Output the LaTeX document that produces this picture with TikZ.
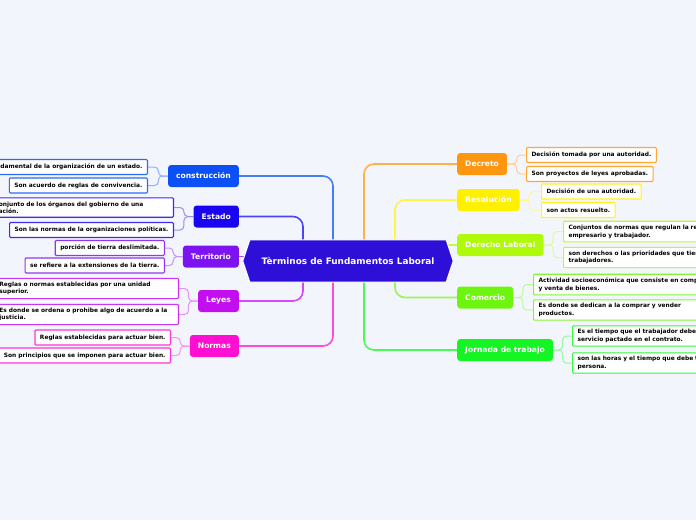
\documentclass[tikz,border=0pt]{standalone}
\usepackage{fontspec}
\setmainfont{DejaVu Sans}
\usetikzlibrary{backgrounds}
\definecolor{pagebg}{RGB}{243,245,252}
\definecolor{hubblue}{RGB}{45,15,215}
\definecolor{conscol}{RGB}{10,80,245}
\definecolor{estcol}{RGB}{25,5,240}
\definecolor{tercol}{RGB}{125,20,240}
\definecolor{leycol}{RGB}{195,15,240}
\definecolor{norcol}{RGB}{255,15,210}
\definecolor{deccol}{RGB}{255,150,15}
\definecolor{rescol}{RGB}{255,240,0}
\definecolor{dercol}{RGB}{175,250,10}
\definecolor{comcol}{RGB}{110,245,15}
\definecolor{jorcol}{RGB}{20,245,35}

\begin{document}
\begin{tikzpicture}[
    x=1pt, y=-1pt,
    hub/.style={minimum width=196pt, minimum height=42pt, inner sep=0pt, text=white, font=\bfseries\fontsize{8.9}{10}\selectfont},
    branch/.style={rounded corners=3pt, fill=#1, text=white, minimum height=22pt, inner xsep=8pt, inner ysep=0pt, font=\bfseries\fontsize{7.6}{9}\selectfont},
    leaf/.style={draw=#1!85, fill=white, line width=1.1pt, rounded corners=1pt, text=black, minimum height=15pt, inner xsep=5pt, inner ysep=3.5pt, align=left, font=\bfseries\fontsize{5.9}{7.6}\selectfont},
    wide/.style={text width=174pt},
    trunk/.style={draw=#1!75, line width=1.6pt, rounded corners=10pt},
    twig/.style={draw=#1!45, line width=1pt, rounded corners=4pt}
]
\useasboundingbox (0,0) rectangle (696,520);
\clip (0,0) rectangle (696,520);

\node[hub] (hub) at (348,261) {Tèrminos de Fundamentos Laboral};

\node[branch=conscol, anchor=east] (cons) at (239,176) {construcción};
\node[branch=estcol, anchor=east] (estado) at (239,216.5) {Estado};
\node[branch=tercol, anchor=east] (terr) at (239,256.5) {Territorio};
\node[branch=leycol, anchor=east] (leyes) at (239,301) {Leyes};
\node[branch=norcol, anchor=east] (normas) at (239,346) {Normas};

\node[branch=deccol, anchor=west] (decreto) at (457,164) {Decreto};
\node[branch=rescol, anchor=west] (resol) at (457,200) {Resolución};
\node[branch=dercol, anchor=west] (derecho) at (457,245) {Derecho Laboral};
\node[branch=comcol, anchor=west] (comercio) at (457,297.5) {Comercio};
\node[branch=jorcol, anchor=west] (jornada) at (457,350) {Jornada de trabajo};

\node[leaf=conscol, anchor=east] (consA) at (148,167) {Ley fundamental de la organización de un estado.};
\node[leaf=conscol, anchor=east] (consB) at (148,185.5) {Son acuerdo de reglas de convivencia.};
\node[leaf=estcol, wide, anchor=east] (estA) at (174,207.5) {Conjunto de los órganos del gobierno de una\\nación.};
\node[leaf=estcol, anchor=east] (estB) at (174,230) {Son las normas de la organizaciones políticas.};
\node[leaf=tercol, anchor=east] (terA) at (165,248) {porción de tierra deslimitada.};
\node[leaf=tercol, anchor=east] (terB) at (165,265.5) {se refiere a la extensiones de la tierra.};
\node[leaf=leycol, wide, anchor=east] (leyA) at (179,288.5) {Reglas o normas establecidas por una unidad\\superior.};
\node[leaf=leycol, wide, anchor=east] (leyB) at (179,314.5) {Es donde se ordena o prohibe algo de acuerdo a la\\justicia.};
\node[leaf=norcol, anchor=east] (norA) at (171,337.5) {Reglas establecidas para actuar bien.};
\node[leaf=norcol, anchor=east] (norB) at (171,355.5) {Son principios que se imponen para actuar bien.};

\node[leaf=deccol, anchor=west] (decA) at (526,155) {Decisión tomada por una autoridad.};
\node[leaf=deccol, anchor=west] (decB) at (526,174) {Son proyectos de leyes aprobadas.};
\node[leaf=rescol, anchor=west] (resA) at (541,191.5) {Decisión de una autoridad.};
\node[leaf=rescol, anchor=west] (resB) at (541,210) {son actos resuelto.};
\node[leaf=dercol, wide, anchor=west] (derA) at (563,231.5) {Conjuntos de normas que regulan la relación entre\\empresario y trabajador.};
\node[leaf=dercol, wide, anchor=west] (derB) at (563,257.5) {son derechos o las prioridades que tienen los\\trabajadores.};
\node[leaf=comcol, wide, anchor=west] (comA) at (533,284.5) {Actividad socioeconómica que consiste en compra\\y venta de bienes.};
\node[leaf=comcol, wide, anchor=west] (comB) at (533,310) {Es donde se dedican a la comprar y vender\\productos.};
\node[leaf=jorcol, wide, anchor=west] (jorA) at (572,336) {Es el tiempo que el trabajador debe prestar el\\servicio pactado en el contrato.};
\node[leaf=jorcol, wide, anchor=west] (jorB) at (572,363) {son las horas y el tiempo que debe trabajar una\\persona.};

\begin{scope}[on background layer]
\fill[pagebg] (0,0) rectangle (696,520);

\draw[trunk=conscol] (cons.east) -| ([xshift=-15pt]hub.north);
\draw[trunk=estcol] (estado.east) -| ([xshift=-45pt]hub.north);
\draw[trunk=tercol] (terr.east) -- (terr.east -| hub.west);
\draw[trunk=leycol] (leyes.east) -| ([xshift=-45pt]hub.south);
\draw[trunk=norcol] (normas.east) -| ([xshift=-15pt]hub.south);
\draw[trunk=deccol] (decreto.west) -| ([xshift=16pt]hub.north);
\draw[trunk=rescol] (resol.west) -| ([xshift=47pt]hub.north);
\draw[trunk=dercol] (derecho.west) -- (derecho.west -| hub.east);
\draw[trunk=comcol] (comercio.west) -| ([xshift=47pt]hub.south);
\draw[trunk=jorcol] (jornada.west) -| ([xshift=16pt]hub.south);

\draw[twig=conscol] (cons.west) -- ++(-9.5,0) |- (consA.east);
\draw[twig=conscol] (cons.west) -- ++(-9.5,0) |- (consB.east);
\draw[twig=estcol] (estado.west) -- ++(-9.5,0) |- (estA.east);
\draw[twig=estcol] (estado.west) -- ++(-9.5,0) |- (estB.east);
\draw[twig=tercol] (terr.west) -- ++(-9.5,0) |- (terA.east);
\draw[twig=tercol] (terr.west) -- ++(-9.5,0) |- (terB.east);
\draw[twig=leycol] (leyes.west) -- ++(-9.5,0) |- (leyA.east);
\draw[twig=leycol] (leyes.west) -- ++(-9.5,0) |- (leyB.east);
\draw[twig=norcol] (normas.west) -- ++(-9.5,0) |- (norA.east);
\draw[twig=norcol] (normas.west) -- ++(-9.5,0) |- (norB.east);
\draw[twig=deccol] (decreto.east) -- ++(9.5,0) |- (decA.west);
\draw[twig=deccol] (decreto.east) -- ++(9.5,0) |- (decB.west);
\draw[twig=rescol] (resol.east) -- ++(9.5,0) |- (resA.west);
\draw[twig=rescol] (resol.east) -- ++(9.5,0) |- (resB.west);
\draw[twig=dercol] (derecho.east) -- ++(9.5,0) |- (derA.west);
\draw[twig=dercol] (derecho.east) -- ++(9.5,0) |- (derB.west);
\draw[twig=comcol] (comercio.east) -- ++(9.5,0) |- (comA.west);
\draw[twig=comcol] (comercio.east) -- ++(9.5,0) |- (comB.west);
\draw[twig=jorcol] (jornada.east) -- ++(9.5,0) |- (jorA.west);
\draw[twig=jorcol] (jornada.east) -- ++(9.5,0) |- (jorB.west);

\fill[hubblue, draw=white, line width=1pt] ([xshift=-7pt]hub.west) -- (hub.north west) -- (hub.north east) -- ([xshift=7pt]hub.east) -- (hub.south east) -- (hub.south west) -- cycle;
\end{scope}

\end{tikzpicture}
\end{document}
